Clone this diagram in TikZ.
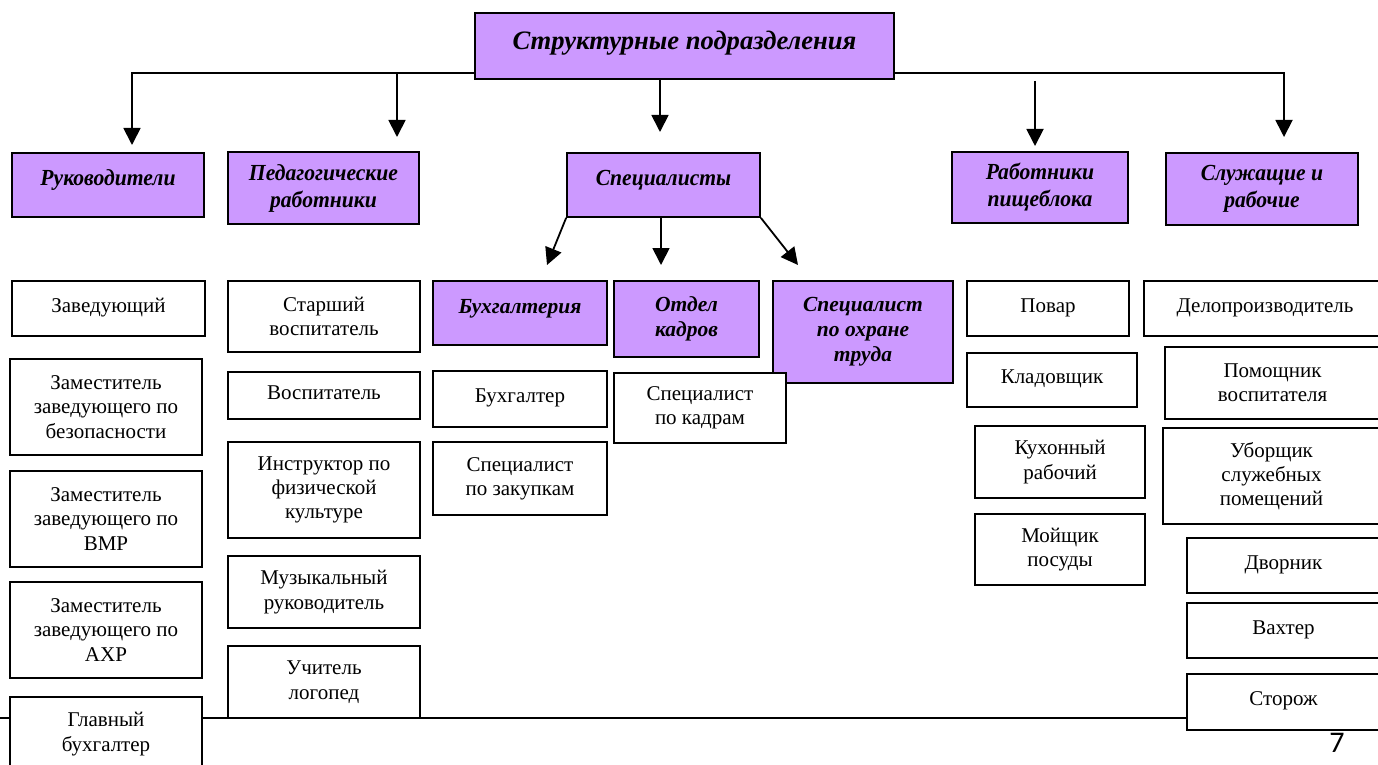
\documentclass[tikz,border=0pt]{standalone}
\usepackage{fontspec}
\setmainfont{Liberation Serif}
\newfontfamily\hdfont{Liberation Serif}[FakeStretch=0.94]
\newfontfamily\pgfont{Carlito}
\usetikzlibrary{arrows.meta}
\definecolor{lav}{RGB}{204,153,255}
\tikzset{
  bx/.style={draw=black, line width=1.7pt, inner sep=0pt, align=center},
  leaf/.style={bx, fill=white, font=\fontsize{21}{24.3}\selectfont},
  hdr/.style={bx, fill=lav, font=\hdfont\bfseries\itshape\fontsize{23}{27}\selectfont},
  sub/.style={bx, fill=lav, font=\bfseries\itshape\fontsize{21.5}{25}\selectfont},
  ttl/.style={bx, fill=lav, font=\bfseries\itshape\fontsize{26.6}{30}\selectfont},
  one/.style={text height=16pt, text depth=#1},
  conn/.style={line width=1.8pt},
  arr/.style={conn, -{Triangle[length=17pt,width=17pt]}},
}
\newcommand\mkbox[7]{%
  \node[#1, minimum width={#5-#3}, minimum height={#6-#4}] (#2) at ({(#3+#5)/2},{(#4+#6)/2}) {#7};}
\begin{document}
\begin{tikzpicture}[x=1pt,y=-1pt]
\useasboundingbox (0,0) rectangle (1378,765);
% footer line (behind boxes)
\coordinate (fl) at (0,718);
\coordinate (fr) at (1187,718);
\draw[line width=2pt] (fl) -- (fr);
% title
\mkbox{ttl,one=8pt}{top}{475}{13}{894}{79}{Структурные подразделения}
% level 2
\mkbox{hdr,one=16pt}{ruk}{12}{153}{204}{217}{Руководители}
\mkbox{hdr}{ped}{228}{152}{419}{224}{Педагогические\\работники}
\mkbox{hdr,one=16pt}{spec}{567}{153}{760}{217}{Специалисты}
\mkbox{hdr}{rab}{952}{152}{1128}{223}{Работники\\пищеблока}
\mkbox{hdr}{slu}{1166}{153}{1358}{225}{Служащие и\\рабочие}
% connectors from title
\coordinate (hl) at (0,73);
\coordinate (t1) at (132,145);
\coordinate (t2) at (397,137);
\coordinate (t3) at (660,132);
\coordinate (s4) at (1035,81);
\coordinate (t4) at (1035,146);
\coordinate (t5) at (1284,137);
\draw[arr] (top.west |- hl) -- (t1 |- hl) -- (t1);
\draw[arr] (t2 |- hl) -- (t2);
\draw[arr] (t3 |- top.south) -- (t3);
\draw[arr] (s4) -- (t4);
\draw[arr] (top.east |- hl) -- (t5 |- hl) -- (t5);
% connectors from Специалисты
\coordinate (t6) at (547,265);
\coordinate (t7) at (661,265);
\coordinate (t8) at (798,265);
\draw[arr] (spec.south west) -- (t6);
\draw[arr] (t7 |- spec.south) -- (t7);
\draw[arr] (spec.south east) -- (t8);
% Руководители column
\mkbox{leaf,one=9pt}{zav}{12}{281}{205}{336}{Заведующий}
\mkbox{leaf}{zbez}{10}{359}{202}{455}{Заместитель\\заведующего по\\безопасности}
\mkbox{leaf}{zvmr}{10}{471}{202}{567}{Заместитель\\заведующего по\\ВМР}
\mkbox{leaf}{zahr}{10}{582}{202}{678}{Заместитель\\заведующего по\\АХР}
\mkbox{leaf}{gb}{10}{697}{202}{771}{Главный\\бухгалтер}
% Педагогические column
\mkbox{leaf}{star}{228}{281}{420}{352}{Старший\\воспитатель}
\mkbox{leaf,one=9pt}{vos}{228}{372}{420}{419}{Воспитатель}
\mkbox{leaf}{instr}{228}{442}{420}{538}{Инструктор по\\физической\\культуре}
\mkbox{leaf}{muz}{228}{556}{420}{628}{Музыкальный\\руководитель}
\mkbox{leaf}{logo}{228}{646}{420}{718}{Учитель\\логопед}
% Специалисты sub-units
\mkbox{sub,one=16pt}{buh}{433}{281}{607}{345}{Бухгалтерия}
\mkbox{sub}{otd}{614}{281}{759}{357}{Отдел\\кадров}
\mkbox{sub}{ohr}{773}{281}{953}{383}{Специалист\\по охране\\труда}
\mkbox{leaf,one=9pt}{buhg}{433}{371}{607}{427}{Бухгалтер}
\mkbox{leaf}{zak}{433}{442}{607}{515}{Специалист\\по закупкам}
\mkbox{leaf}{kadr}{614}{373}{786}{443}{Специалист\\по кадрам}
% Работники пищеблока column
\mkbox{leaf,one=9pt}{pov}{967}{281}{1129}{336}{Повар}
\mkbox{leaf,one=9pt}{klad}{967}{353}{1137}{407}{Кладовщик}
\mkbox{leaf}{kuh}{975}{426}{1145}{498}{Кухонный\\рабочий}
\mkbox{leaf}{moy}{975}{514}{1145}{585}{Мойщик\\посуды}
% Служащие и рабочие column
\mkbox{leaf,one=9pt}{delo}{1144}{281}{1386}{336}{Делопроизводитель}
\mkbox{leaf}{pom}{1165}{347}{1380}{419}{Помощник\\воспитателя}
\mkbox{leaf}{ub}{1163}{428}{1380}{524}{Уборщик\\служебных\\помещений}
\mkbox{leaf,one=9pt}{dvor}{1187}{538}{1380}{593}{Дворник}
\mkbox{leaf,one=9pt}{vah}{1187}{603}{1380}{658}{Вахтер}
\mkbox{leaf,one=9pt}{stor}{1187}{674}{1380}{730}{Сторож}
% page number
\node[font=\pgfont\fontsize{30}{32}\selectfont, inner sep=0pt] (pnum) at (1337,743) {7};
\end{tikzpicture}
\end{document}
